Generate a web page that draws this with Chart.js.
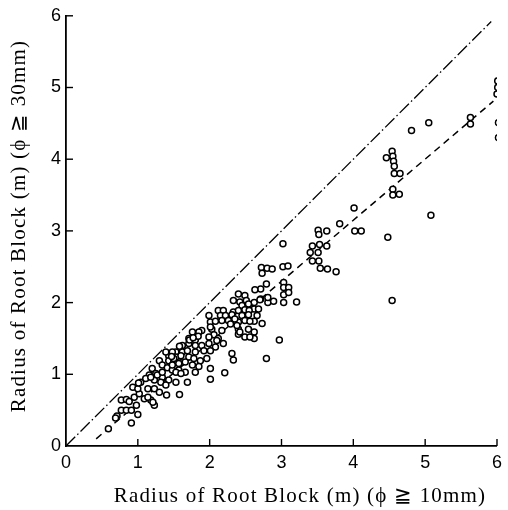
<!DOCTYPE html>
<html>
<head>
<meta charset="utf-8">
<script src="https://cdn.jsdelivr.net/npm/chart.js@4.4.1/dist/chart.umd.min.js"></script>
<style>
  html, body { margin: 0; padding: 0; background: #fff; }
  canvas { display: block; }
</style>
</head>
<body>
<canvas id="rootChart" width="508" height="510"></canvas>
<script>
// radius of root block (m): [phi >= 10mm, phi >= 30mm]
const blockPairs = [
  [6.01,5.09],[6.01,5.00],[6.00,4.91],[6.02,4.51],[6.02,4.30],
  [5.63,4.58],[5.63,4.49],[5.05,4.51],[4.81,4.40],
  [4.54,4.11],[4.46,4.02],[4.55,4.04],[4.56,3.97],[4.57,3.90],[4.57,3.80],[4.65,3.80],
  [4.55,3.58],[4.55,3.50],[4.64,3.51],[5.08,3.22],[4.48,2.91],[4.54,2.03],
  [4.01,3.32],[3.81,3.10],[4.02,3.00],[4.11,3.00],
  [3.51,3.01],[3.52,2.95],[3.63,3.00],[3.43,2.79],[3.53,2.81],[3.63,2.79],[3.40,2.70],[3.51,2.70],
  [3.43,2.58],[3.52,2.58],[3.54,2.48],[3.64,2.47],[3.76,2.43],
  [3.02,2.82],[2.72,2.49],[2.80,2.48],[2.87,2.47],[2.73,2.41],[3.02,2.50],[3.09,2.51],
  [3.03,2.28],[3.03,2.21],[3.10,2.21],[3.03,2.11],[3.10,2.14],[3.03,2.00],[3.21,2.01],[2.97,1.48],[2.79,1.22],
  [2.79,2.26],[2.71,2.19],[2.63,2.18],[2.71,2.05],[2.81,2.00],[2.89,2.02],[2.81,2.07],
  [2.62,2.00],[2.62,1.91],[2.66,1.82],[2.62,1.74],[2.73,1.71],[2.62,1.59],[2.62,1.50],
  [2.40,2.12],[2.49,2.10],[2.33,2.03],[2.42,2.01],[2.51,2.03],[2.70,2.04],[2.45,1.96],[2.54,1.98],
  [2.12,1.89],[2.19,1.89],[2.33,1.87],[2.40,1.89],[2.49,1.90],[2.55,1.89],[2.68,1.91],
  [1.99,1.82],[2.15,1.82],[2.22,1.82],[2.31,1.83],[2.45,1.82],[2.54,1.83],
  [2.01,1.73],[2.08,1.74],[2.17,1.75],[2.26,1.75],[2.40,1.73],[2.49,1.75],[2.56,1.74],
  [2.03,1.63],[2.17,1.61],[2.40,1.63],[2.54,1.63],[1.89,1.61],[2.06,1.55],[2.40,1.56],[2.49,1.52],[2.12,1.50],[2.56,1.52],
  [2.35,1.77],[2.38,1.68],[2.29,1.70],[2.01,1.66],[2.42,1.59],[1.76,1.59],[1.85,1.59],[1.99,1.52],[2.10,1.47],[1.71,1.50],[1.80,1.48],
  [1.62,1.40],[1.71,1.43],[1.80,1.40],[1.89,1.40],[1.99,1.43],[2.08,1.38],[2.19,1.43],[1.92,1.33],[2.01,1.33],
  [1.53,1.31],[1.62,1.31],[1.69,1.33],[1.80,1.31],[1.43,1.26],[1.53,1.24],[2.31,1.29],
  [1.30,1.19],[1.43,1.19],[1.71,1.24],[1.78,1.22],[1.87,1.19],[1.96,1.22],[1.50,1.17],[1.60,1.16],[1.66,1.17],
  [1.76,1.13],[1.85,1.11],[1.34,1.13],[1.41,1.09],[1.20,1.08],[1.25,1.01],[1.48,1.06],[1.57,1.06],[1.66,1.03],[1.80,1.03],
  [2.01,1.08],[2.33,1.20],[2.21,1.02],[2.01,0.93],[1.34,0.96],[1.43,0.92],[1.53,0.89],[1.69,0.89],[1.16,0.99],[1.23,0.92],
  [1.58,0.72],[1.40,0.71],[0.59,0.24],[0.71,0.42],[0.77,0.50],[0.84,0.50],[0.77,0.64],[0.84,0.65],[0.91,0.32],[1.00,0.44],
  [0.91,0.50],[0.98,0.57],[0.88,0.62],[0.95,0.68],[1.02,0.73],[0.93,0.82],[1.00,0.80],[1.04,0.89],[1.11,0.94],[1.09,0.66],
  [1.18,0.64],[1.23,0.57],[1.14,0.80],[1.23,0.80],[1.30,0.75],[1.18,0.96],[1.27,0.99],[1.32,0.89],[1.39,0.85],[1.34,1.03],
  [1.48,1.13],[1.57,1.15],[1.53,1.03],[1.60,1.01],[1.50,1.22],[1.60,1.26],[1.39,1.31],[1.48,1.31],
  [0.69,0.39],[1.01,0.88],[1.14,0.68],[1.21,0.61],[1.47,1.25],[1.58,1.39],[1.72,1.48],[1.84,1.53],[1.77,1.51]
];

// y = x (dash-dot) and regression line (dashed)
const equalLine = [[0, 0], [5.92, 5.92]];
const fitLine = [[0.42, 0.10], [5.95, 4.81]];
const axisTicks = [0, 1, 2, 3, 4, 5, 6];

const xTitle = 'Radius of Root Block (m) (\u03D5 \u2267 10mm)';
const yTitle = 'Radius of Root Block (m) (\u03D5 \u2267 30mm)';

const toXY = arr => arr.map(p => ({ x: p[0], y: p[1] }));

// ticks drawn inward, like the original figure
const inwardTicks = {
    id: 'inwardTicks',
    afterDraw(chart) {
        const ctx = chart.ctx;
        const xs = chart.scales.x, ys = chart.scales.y;
        ctx.save();
        ctx.strokeStyle = '#000';
        ctx.lineWidth = 1.4;
        axisTicks.slice(1).forEach(v => {
            const py = ys.getPixelForValue(v);
            ctx.beginPath();
            ctx.moveTo(xs.left, py);
            ctx.lineTo(xs.left + 7, py);
            ctx.stroke();
            const px = xs.getPixelForValue(v);
            ctx.beginPath();
            ctx.moveTo(px, ys.bottom);
            ctx.lineTo(px, ys.bottom - 7);
            ctx.stroke();
        });
        ctx.restore();
    }
};

const axisTitles = {
    id: 'axisTitles',
    afterDraw(chart) {
        const ctx = chart.ctx;
        ctx.save();
        ctx.fillStyle = '#000';
        ctx.font = '21px "Liberation Serif", "DejaVu Serif", serif';
        ctx.letterSpacing = '1.2px';
        ctx.textAlign = 'center';
        ctx.textBaseline = 'middle';
        ctx.fillText(xTitle, 300, 496);
        ctx.translate(19, 226);
        ctx.rotate(-Math.PI / 2);
        ctx.fillText(yTitle, 0, 0);
        ctx.restore();
    }
};

const tickFont = { family: '"Liberation Sans", Arial, sans-serif', size: 18 };

new Chart(document.getElementById('rootChart'), {
    type: 'scatter',
    data: {
        datasets: [
            {
                data: toXY(blockPairs),
                pointStyle: 'circle',
                pointRadius: 3,
                pointBorderWidth: 1.5,
                pointBorderColor: '#000',
                pointBackgroundColor: '#fff'
            },
            {
                type: 'line',
                data: toXY(equalLine),
                borderColor: '#000',
                borderWidth: 1.3,
                borderDash: [13, 3, 1.5, 3],
                pointRadius: 0,
                fill: false
            },
            {
                type: 'line',
                data: toXY(fitLine),
                borderColor: '#000',
                borderWidth: 1.5,
                borderDash: [7, 5],
                pointRadius: 0,
                fill: false
            }
        ]
    },
    options: {
        responsive: false,
        animation: false,
        layout: { padding: { top: 14, right: 7, left: 0, bottom: 0 } },
        plugins: {
            legend: { display: false },
            tooltip: { enabled: false }
        },
        scales: {
            x: {
                type: 'linear',
                min: 0,
                max: 6,
                afterBuildTicks: s => { s.ticks = axisTicks.map(v => ({ value: v })); },
                ticks: { color: '#000', font: tickFont, padding: 6, maxRotation: 0 },
                grid: { display: false, drawTicks: false },
                border: { display: true, color: '#000', width: 1.8 },
                afterFit: s => { s.height = 64; }
            },
            y: {
                type: 'linear',
                min: 0,
                max: 6,
                afterBuildTicks: s => { s.ticks = axisTicks.map(v => ({ value: v })); },
                ticks: { color: '#000', font: tickFont, padding: 5 },
                grid: { display: false, drawTicks: false },
                border: { display: true, color: '#000', width: 1.8 },
                afterFit: s => { s.width = 66; }
            }
        }
    },
    plugins: [inwardTicks, axisTitles]
});
</script>
</body>
</html>
